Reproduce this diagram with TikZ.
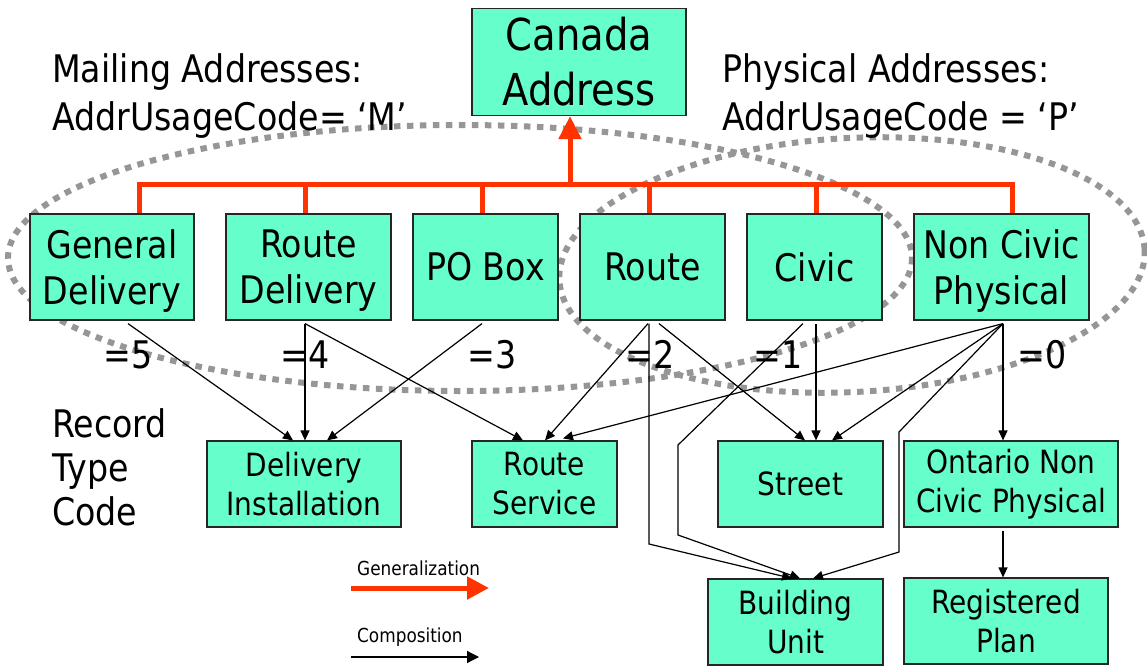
\documentclass[tikz,border=0pt]{standalone}
\usepackage{fontspec}
\setmainfont{DejaVu Sans}[FakeStretch=0.875]
\usetikzlibrary{arrows.meta,calc}
\definecolor{boxfill}{RGB}{102,255,204}
\definecolor{genorange}{RGB}{255,51,0}
\definecolor{groupgray}{RGB}{150,150,150}
\begin{document}
\begin{tikzpicture}[x=1pt,y=-1pt,
  cls/.style={draw=black!85, line width=1.2pt, fill=boxfill, inner sep=0pt, align=center},
  huge/.style={font=\fontsize{44}{55}\selectfont},
  big/.style={font=\fontsize{38}{46}\selectfont},
  small/.style={font=\fontsize{32}{39}\selectfont},
  tiny/.style={font=\fontsize{19.3}{23}\selectfont},
  flat/.style={text depth=-2pt},
  txt/.style={anchor=base west, inner sep=0pt},
  genline/.style={draw=genorange, line width=5pt},
  comp/.style={draw=black, line width=1.2pt, -{Triangle[length=10pt,width=9pt]}},
  group/.style={draw=groupgray, line width=6pt, dash pattern=on 6.5pt off 6.5pt}
]
\useasboundingbox (0,0) rectangle (1147,666);

% address-usage groupings
\draw[group] (460,258) ellipse [x radius=452, y radius=133];
\draw[group, rotate around={3:(852,265)}] (852,265) ellipse [x radius=293, y radius=127];

% classes
\node[cls, huge, minimum width=214pt, minimum height=107pt] (ca) at (579,62) {Canada\\Address};

\node[cls, big, flat, minimum width=164pt, minimum height=106pt] (gd) at (112,267) {General\\Delivery};
\node[cls, big, flat, minimum width=165pt, minimum height=106pt] (rd) at (308.5,267) {Route\\Delivery};
\node[cls, big, minimum width=145pt, minimum height=106pt] (po) at (485.5,267) {PO Box};
\node[cls, big, minimum width=145pt, minimum height=106pt] (rt) at (652.5,267) {Route};
\node[cls, big, minimum width=135pt, minimum height=106pt] (cv) at (814.5,267) {Civic};
\node[cls, big, flat, minimum width=175pt, minimum height=106pt] (nc) at (1001.5,267) {Non Civic\\Physical};

\node[cls, small, minimum width=194pt, minimum height=86pt] (di) at (304,484) {Delivery\\Installation};
\node[cls, small, minimum width=145pt, minimum height=86pt] (rs) at (544.5,484) {Route\\Service};
\node[cls, small, minimum width=165pt, minimum height=86pt] (st) at (800.5,484) {Street};
\node[cls, small, minimum width=214pt, minimum height=86pt] (on) at (1011,484) {Ontario Non\\Civic Physical};
\node[cls, small, minimum width=175pt, minimum height=86pt] (bu) at (795.5,622) {Building\\Unit};
\node[cls, small, minimum width=204pt, minimum height=86pt] (rp) at (1006,621) {Registered\\Plan};

% generalization tree
\coordinate (bus) at (570,184);
\draw[genline] ([xshift=27pt]gd.north) |- (bus) -| ([xshift=10.5pt]nc.north);
\draw[genline] ([xshift=-3.5pt]rd.north) -- ([xshift=-3.5pt]rd.north |- bus);
\draw[genline] ([xshift=-3.5pt]po.north) -- ([xshift=-3.5pt]po.north |- bus);
\draw[genline] ([xshift=-3.5pt]rt.north) -- ([xshift=-3.5pt]rt.north |- bus);
\draw[genline] ([xshift=1.5pt]cv.north) -- ([xshift=1.5pt]cv.north |- bus);
\draw[genline, -{Triangle[length=23pt,width=22pt]}] (bus) -- (bus |- ca.south);

% composition links
\draw[comp] ([xshift=16pt,yshift=-3pt]gd.south) -- ([xshift=-11pt]di.north);
\draw[comp] ([xshift=-3.5pt,yshift=-3pt]rd.south) -- ([xshift=1pt]di.north);
\draw[comp] ([xshift=-3.5pt,yshift=-3pt]po.south) -- ([xshift=23pt]di.north);
\draw[comp] ([xshift=-3.5pt,yshift=-3pt]rd.south) -- ([xshift=-21.5pt]rs.north);
\draw[comp] ([xshift=-4.5pt,yshift=-3pt]rt.south) -- ([xshift=0.5pt]rs.north);
\draw[comp] ([xshift=1.5pt,yshift=-3pt]nc.south) -- ([xshift=18.5pt,yshift=2pt]rs.north);
\draw[comp] ([xshift=6.5pt,yshift=-3pt]rt.south) -- ([xshift=4.5pt]st.north);
\draw[comp] ([xshift=1.5pt,yshift=-3pt]cv.south) -- ([xshift=15.5pt]st.north);
\draw[comp] ([xshift=1.5pt,yshift=-3pt]nc.south) -- ([xshift=31.5pt]st.north);
\draw[comp] ([xshift=1.5pt,yshift=-3pt]nc.south) -- ([xshift=-8pt]on.north);
\draw[comp] ([xshift=-8pt,yshift=-3pt]on.south) -- ([xshift=-3pt]rp.north);

\coordinate (rb) at (649,544);
\coordinate (cb1) at (678,445);
\coordinate (cb2) at (678,535);
\coordinate (nb1) at (899,432);
\coordinate (nb2) at (899,552);
\draw[comp] ([xshift=-3.5pt,yshift=-3pt]rt.south) -- (rb) -- ([xshift=-3.5pt]bu.north);
\draw[comp] ([xshift=-11.5pt,yshift=-3pt]cv.south) -- (cb1) -- (cb2) -- ([xshift=4.5pt]bu.north);
\draw[comp] ([xshift=1.5pt,yshift=-3pt]nc.south) -- (nb1) -- (nb2) -- ([xshift=17.5pt]bu.north);

% captions
\node[txt, big] (m1) at (52,83) {Mailing Addresses:};
\node[txt, big] (m2) at (52,130) {AddrUsageCode= ‘M’};
\node[txt, big] (p1) at (722,83) {Physical Addresses:};
\node[txt, big] (p2) at (722,131) {AddrUsageCode = ‘P’};

\node[txt, big] (r1) at (52,437) {Record};
\node[txt, big] (r2) at (52,481) {Type};
\node[txt, big] (r3) at (52,525) {Code};

\node[txt, big] (k5) at (103,368) {=5};
\node[txt, big] (k4) at (280,368) {=4};
\node[txt, big] (k3) at (467,368) {=3};
\node[txt, big] (k2) at (625,368) {=2};
\node[txt, big] (k1) at (753,368) {=1};
\node[txt, big] (k0) at (1017,368) {=0};

% legend
\node[txt, tiny] (lg) at (357,575) {Generalization};
\coordinate (g0) at (351,588);
\coordinate (g1) at (489,588);
\draw[genline, -{Triangle[length=22pt,width=22pt]}] (g0) -- (g1);
\node[txt, tiny] (lc) at (357,642) {Composition};
\coordinate (c0) at (351,657);
\coordinate (c1) at (479,657);
\draw[comp, -{Triangle[length=12pt,width=12pt]}] (c0) -- (c1);
\end{tikzpicture}
\end{document}
